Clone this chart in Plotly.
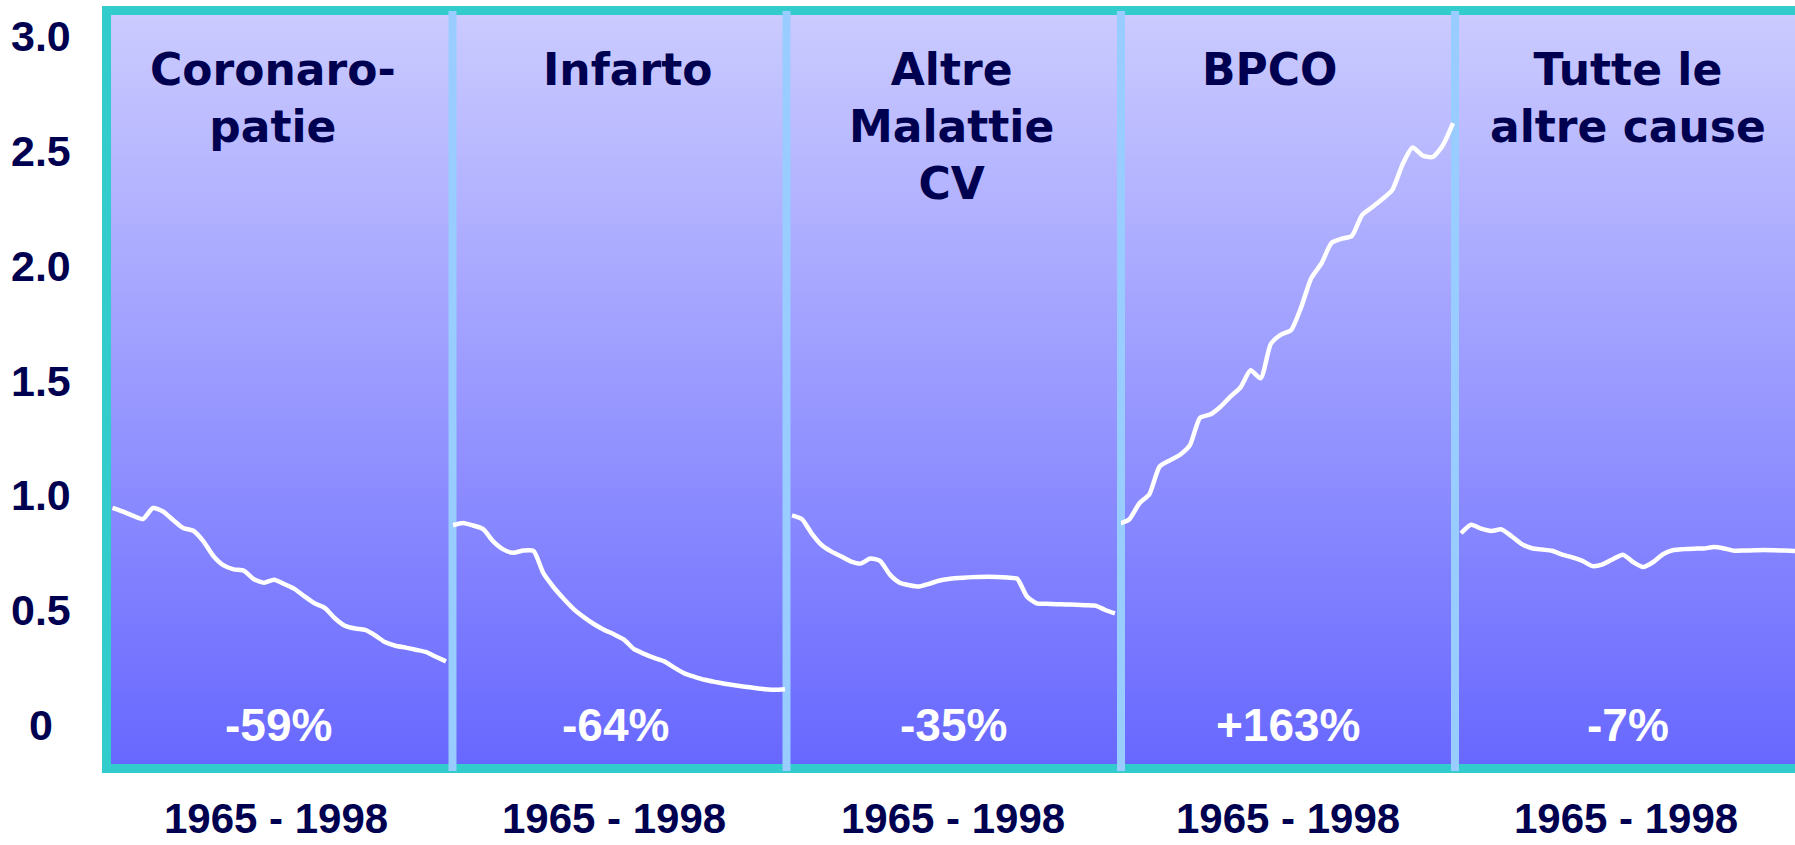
import plotly.graph_objects as go

# ---------------- data ----------------
years = list(range(1965, 1999))
titles = ["Coronaro-<br>patie", "Infarto", "Altre<br>Malattie<br>CV", "BPCO", "Tutte le<br>altre cause"]
changes = ["-59%", "-64%", "-35%", "+163%", "-7%"]
period_label = "1965 - 1998"
ytick_vals = [0, 0.5, 1.0, 1.5, 2.0, 2.5, 3.0]
ytick_text = ["0", "0.5", "1.0", "1.5", "2.0", "2.5", "3.0"]

coronaropatie = [0.946, 0.93, 0.912, 0.897, 0.945, 0.93, 0.893, 0.858, 0.846, 0.80,
                 0.735, 0.695, 0.678, 0.672, 0.635, 0.62, 0.633, 0.614, 0.593, 0.56,
                 0.53, 0.51, 0.465, 0.432, 0.42, 0.414, 0.39, 0.36, 0.345, 0.337,
                 0.328, 0.318, 0.297, 0.277]
infarto = [0.870, 0.880, 0.869, 0.853, 0.800, 0.765, 0.750, 0.760, 0.758, 0.660,
           0.600, 0.550, 0.505, 0.470, 0.440, 0.415, 0.395, 0.372, 0.330, 0.310,
           0.292, 0.277, 0.250, 0.225, 0.210, 0.197, 0.188, 0.180, 0.173, 0.167,
           0.161, 0.156, 0.153, 0.156]
altre_cv = [0.913, 0.897, 0.835, 0.785, 0.756, 0.735, 0.713, 0.703, 0.725, 0.715,
            0.655, 0.620, 0.609, 0.603, 0.615, 0.628, 0.636, 0.640, 0.643, 0.645,
            0.646, 0.645, 0.642, 0.637, 0.560, 0.530, 0.528, 0.526, 0.525, 0.524,
            0.522, 0.520, 0.501, 0.486]
bpco = [0.876, 0.895, 0.965, 1.005, 1.125, 1.152, 1.176, 1.218, 1.338, 1.352,
        1.385, 1.43, 1.47, 1.545, 1.51, 1.66, 1.70, 1.72, 1.82, 1.947,
        2.01, 2.10, 2.118, 2.13, 2.22, 2.255, 2.29, 2.33, 2.44, 2.515,
        2.48, 2.474, 2.525, 2.621]
altre_cause = [0.835, 0.872, 0.855, 0.845, 0.852, 0.822, 0.788, 0.770, 0.764, 0.759,
               0.742, 0.730, 0.715, 0.692, 0.700, 0.722, 0.742, 0.710, 0.688, 0.710,
               0.745, 0.762, 0.766, 0.768, 0.769, 0.775, 0.769, 0.759, 0.760, 0.761,
               0.762, 0.761, 0.760, 0.758]
series = [coronaropatie, infarto, altre_cv, bpco, altre_cause]

# ---------------- layout geometry (pixels) ----------------
W, H = 1795, 845
L, T, B = 106, 10, 77
PW = W - L
PH = H - T - B


def px_x(px):
    return (px - L) / PW


def px_y(py):
    return (H - B - py) / PH


Y0PX, YS = 725.0, 229.6
y_range = [(Y0PX - (H - B)) / YS, (Y0PX - T) / YS]

bounds = [106, 452.5, 786.5, 1121, 1455, 1795]
line_px = [(112.5, 446), (453, 785), (792, 1115), (1119, 1453), (1461, 1795)]
title_cx = [273, 628, 951, 1269, 1628]
change_cx = [278, 615, 953, 1288, 1628]
period_cx = [276, 614, 953, 1288, 1626]

NAVY = "#000050"
TEAL = "#33CCCC"
DIVIDER = "#99CCFF"

fig = go.Figure()

layout = dict(
    width=W, height=H,
    margin=dict(l=L, r=0, t=T, b=B, pad=0),
    paper_bgcolor="white",
    plot_bgcolor="rgba(0,0,0,0)",
    showlegend=False,
    yaxis=dict(range=y_range, visible=False, fixedrange=True, anchor="x"),
)

for k in range(5):
    s, e = line_px[k]
    f = 33.0 / (e - s)
    lo = 1965 + (bounds[k] - s) * f
    hi = 1965 + (bounds[k + 1] - s) * f
    name = "xaxis" if k == 0 else f"xaxis{k + 1}"
    layout[name] = dict(domain=[px_x(bounds[k]), px_x(bounds[k + 1])],
                        range=[lo, hi], visible=False, fixedrange=True, anchor="y")
    fig.add_trace(go.Scatter(
        x=years, y=series[k],
        xaxis="x" if k == 0 else f"x{k + 1}", yaxis="y",
        mode="lines",
        line=dict(color="white", width=4.5, shape="spline", smoothing=0.6),
        hoverinfo="skip", showlegend=False,
    ))

shapes = []
# vertical gradient background
for py in range(T, H - B, 4):
    c = 104 + 98 * (760 - (py + 2)) / 740
    c = int(round(max(0, min(255, c))))
    shapes.append(dict(type="rect", xref="paper", yref="paper",
                       x0=0, x1=1, y0=px_y(min(py + 5, H - B)), y1=px_y(py),
                       line=dict(width=0), fillcolor=f"rgb({c},{c},255)", layer="below"))
# teal frame
shapes.append(dict(type="rect", xref="paper", yref="paper",
                   x0=px_x(106.5), x1=px_x(1802), y0=px_y(768.5), y1=px_y(10.5),
                   line=dict(color=TEAL, width=9), fillcolor="rgba(0,0,0,0)", layer="below"))
# dividers
for xc in bounds[1:-1]:
    shapes.append(dict(type="line", xref="paper", yref="paper",
                       x0=px_x(xc), x1=px_x(xc), y0=px_y(771), y1=px_y(11),
                       line=dict(color=DIVIDER, width=8), layer="below"))
layout["shapes"] = shapes

ann = []
for v, t in zip(ytick_vals, ytick_text):
    ann.append(dict(text=f"<b>{t}</b>", xref="paper", yref="y", x=px_x(41), y=v,
                    xanchor="center", yanchor="middle", showarrow=False,
                    font=dict(family="Liberation Sans, Arial, sans-serif", size=43, color=NAVY)))
for k in range(5):
    ann.append(dict(text=f"<b>{titles[k]}</b>", xref="paper", yref="paper",
                    x=px_x(title_cx[k]), y=px_y(42), xanchor="center", yanchor="top",
                    align="center", showarrow=False,
                    font=dict(family="DejaVu Sans, Verdana, sans-serif", size=44, color=NAVY)))
    ann.append(dict(text=f"<b>{changes[k]}</b>", xref="paper", yref="y",
                    x=px_x(change_cx[k]), y=0, xanchor="center", yanchor="middle",
                    showarrow=False,
                    font=dict(family="Liberation Sans, Arial, sans-serif", size=46, color="white")))
    ann.append(dict(text=f"<b>{period_label}</b>", xref="paper", yref="paper",
                    x=px_x(period_cx[k]), y=px_y(818), xanchor="center", yanchor="middle",
                    showarrow=False,
                    font=dict(family="Liberation Sans, Arial, sans-serif", size=42, color=NAVY)))
layout["annotations"] = ann

fig.update_layout(**layout)
fig.write_html("out.html", config={"displayModeBar": False})
